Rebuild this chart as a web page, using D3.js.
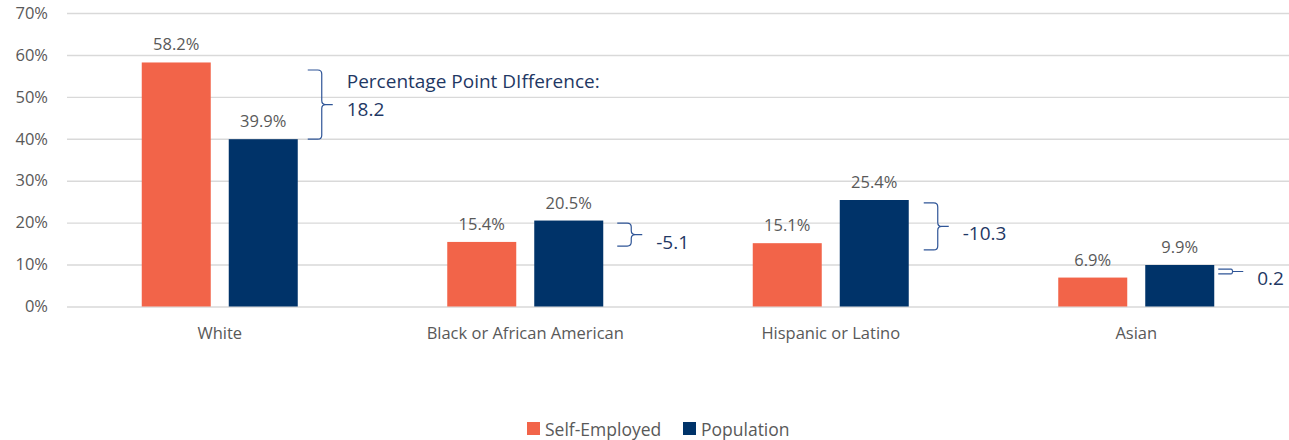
<!DOCTYPE html>
<html>
<head>
<meta charset="utf-8">
<script src="https://cdn.jsdelivr.net/npm/d3@7"></script>
<style>
    body { margin: 0; background: #fff; }
    svg { font-family: "Open Sans", "Segoe UI", sans-serif; }
</style>
</head>
<body>
<div class="chart_container"></div>
<script>
//^ DATA //
const categories = ["White", "Black or African American", "Hispanic or Latino", "Asian"];
const seriesNames = ["Self-Employed", "Population"];
const selfEmployed = [58.2, 15.4, 15.1, 6.9];
const population = [39.9, 20.5, 25.4, 9.9];
const yTicks = [0, 10, 20, 30, 40, 50, 60, 70];
// brace annotations: top / bottom value the brace spans, and the label
const braceTop = [56.4, 19.9, 24.7, 8.9];
const braceBottom = [39.9, 14.4, 13.5, 7.8];
const braceLabels = [["Percentage Point DIfference:", "18.2"], ["-5.1"], ["-10.3"], ["0.2"]];

//^ DIMENSIONS //
const width = 1289;
const height = 440;
const margin = { left: 67, right: 0, top: 13, bottom: 133 };
const colors = ["#F26449", "#003369"];
const gray = "#595959";

const svg = d3.select(".chart_container").append("svg")
    .attr("width", width)
    .attr("height", height);

const x = d3.scaleBand().domain(categories).range([margin.left, width - margin.right]);
const y = d3.scaleLinear().domain([0, 70]).range([height - margin.bottom - 0.5, margin.top]);

const barW = 69;
const gap = 18;

//^ GRID + Y AXIS //
const yAxis = d3.axisLeft(y).tickValues(yTicks).tickFormat(d => d + "%").tickSize(-(width - margin.left)).tickPadding(19);
const yG = svg.append("g").attr("transform", `translate(${margin.left},0)`).call(yAxis);
yG.select(".domain").remove();
yG.selectAll(".tick line").attr("stroke", "#d9d9d9").attr("stroke-width", 1.4);
yG.selectAll(".tick text").attr("fill", gray).style("font-size", "16.5px").style("font-family", "'Open Sans', sans-serif");

//^ X AXIS LABELS //
const xAxis = d3.axisBottom(x).tickSize(0).tickPadding(21);
const xG = svg.append("g").attr("transform", `translate(0,${y(0)})`).call(xAxis);
xG.select(".domain").remove();
xG.selectAll(".tick text").attr("fill", gray).style("font-size", "16.5px").style("font-family", "'Open Sans', sans-serif");

//^ BARS //
const series = [selfEmployed, population];
series.forEach((vals, s) => {
    const g = svg.append("g");
    const bx = (d, i) => x(categories[i]) + x.bandwidth() / 2 + (s === 0 ? -gap / 2 - barW : gap / 2);
    g.selectAll("rect").data(vals).enter().append("rect")
        .attr("x", bx)
        .attr("y", d => y(d))
        .attr("width", barW)
        .attr("height", d => y(0) - y(d))
        .attr("fill", colors[s]);
    g.selectAll("text").data(vals).enter().append("text")
        .attr("x", (d, i) => bx(d, i) + barW / 2)
        .attr("y", d => y(d) - 12)
        .attr("text-anchor", "middle")
        .attr("fill", gray)
        .style("font-size", "16.5px")
        .text(d => d.toFixed(1) + "%");
});

//^ BRACES //
const braceDx = [10, 14, 15, 4];
const braceW = 14;
categories.forEach((c, i) => {
    const x0 = x(c) + x.bandwidth() / 2 + gap / 2 + barW + braceDx[i];
    const t = y(braceTop[i]);
    const b = y(braceBottom[i]);
    const m = (t + b) / 2;
    const r = Math.min(4, (b - t) / 4);
    const xm = x0 + braceW;
    const p = `M${x0},${t} L${xm - r},${t} Q${xm},${t} ${xm},${t + r} L${xm},${m - r} Q${xm},${m} ${xm + r},${m} L${xm + 11},${m}`
        + ` M${xm + r},${m} Q${xm},${m} ${xm},${m + r} L${xm},${b - r} Q${xm},${b} ${xm - r},${b} L${x0},${b}`;
    svg.append("path").attr("d", p).attr("fill", "none").attr("stroke", "#2F5597").attr("stroke-width", 1.2);
    const lines = braceLabels[i];
    const tx = xm + 25;
    const ty = lines.length > 1 ? m - 17 : m + 14;
    const txt = svg.append("text").attr("x", tx).attr("y", ty).attr("fill", "#1F3864").style("font-size", "19px");
    lines.forEach((l, k) => txt.append("tspan").attr("x", tx).attr("dy", k === 0 ? 0 : 28).text(l));
});

//^ LEGEND //
const legendX = [527, 683];
seriesNames.forEach((n, s) => {
    svg.append("rect").attr("x", legendX[s]).attr("y", 422).attr("width", 13).attr("height", 13).attr("fill", colors[s]);
    svg.append("text").attr("x", legendX[s] + 18).attr("y", 436).attr("fill", gray).style("font-size", "17.5px").text(n);
});
</script>
</body>
</html>
